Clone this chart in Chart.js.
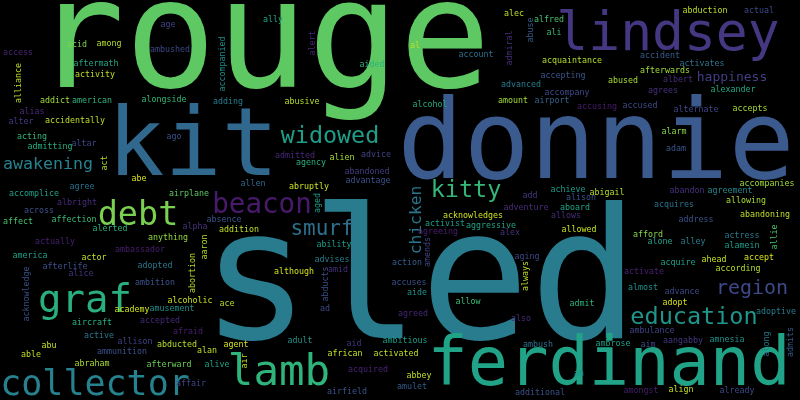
<!DOCTYPE html>
<html>
<head>
<meta charset="utf-8">
<title>Word cloud</title>
<script src="https://cdn.jsdelivr.net/npm/chart.js"></script>
<style>
  html, body { margin: 0; padding: 0; background: #000; }
  #wrap { width: 800px; height: 400px; }
</style>
</head>
<body>
<div id="wrap"><canvas id="cloud" width="800" height="400"></canvas></div>
<script>
/* ─── Data: large words ─────────────────────────────────────────────────── */
const bigWords = ['rouge', 'donnie', 'sled', 'kit', 'lindsey', 'ferdinand', 'lamb', 'collector', 'graf', 'debt',
                  'beacon', 'education', 'widowed', 'kitty', 'smurf', 'region', 'awakening', 'chicken', 'happiness'];
const bigX     = [262, 596, 420, 193, 668, 609, 279, 95, 85, 138,
                  262, 694, 330, 466, 322, 752, 48, 421, 732];
const bigY     = [87, 178, 338, 175, 50, 385, 385, 395, 312, 225,
                  213, 324, 143, 197, 235, 294, 169, 220, 81];
const bigSize  = [152, 110, 182, 95, 53, 67, 42.5, 35, 39, 33.5,
                  27.6, 23.5, 23.4, 23.5, 21, 20, 16.6, 16.3, 13];
const bigColor = ['#5ec962', '#3b5a8d', '#287c8e', '#31688e', '#453781', '#20a386', '#2fb47c', '#26828e', '#2ab07f', '#7ad151',
                  '#481a6c', '#1f968b', '#1f9e89', '#35b779', '#2d708e', '#3e4a89', '#26828e', '#2a768e', '#433e85'];

/* ─── Data: small words ─────────────────────────────────────────────────── */
const SMALL_SIZE = 8.3;
const smallWords = [
  'age', 'acid', 'among', 'access', 'ambushed', 'alliance', 'aftermath', 'activity', 'addict', 'american',
  'alongside', 'alias', 'alter', 'accidentally', 'acting', 'ago', 'admitting', 'altar', 'act', 'abe',
  'agree', 'accomplice', 'airplane', 'ally', 'accompanied', 'alert', 'aided', 'adding', 'abusive', 'admitted',
  'alien', 'advice', 'agency', 'abandoned', 'advantage', 'allen', 'abruptly', 'alec', 'alfred', 'ali',
  'abuse', 'admiral', 'al', 'account', 'acquaintance', 'accepting', 'advanced', 'accompany', 'amount', 'airport',
  'alcohol', 'accusing', 'achieve', 'alison', 'add', 'abduction', 'actual', 'accident', 'activates', 'afterwards',
  'albert', 'abused', 'agrees', 'alexander', 'accused', 'alternate', 'accepts', 'alarm', 'adam', 'abigail',
  'abandon', 'agreement', 'accompanies', 'allowing', 'albright', 'across', 'affect', 'affection', 'alerted', 'actually',
  'anything', 'alpha', 'ambassador', 'america', 'actor', 'afterlife', 'adopted', 'alice', 'acknowledge', 'abortion',
  'ambition', 'alcoholic', 'academy', 'amusement', 'aircraft', 'accepted', 'afraid', 'active', 'allison', 'abu',
  'abducted', 'able', 'ammunition', 'abraham', 'afterward', 'affair', 'absence', 'addition', 'aaron', 'aged',
  'ability', 'advises', 'although', 'abducts', 'amid', 'ace', 'ad', 'adult', 'agent', 'alan',
  'aid', 'ambitious', 'african', 'activated', 'alive', 'air', 'acquired', 'airfield', 'action', 'accuses',
  'agreed', 'adventure', 'aboard', 'acknowledges', 'allows', 'activist', 'aggressive', 'agreeing', 'alex', 'allowed',
  'amends', 'aging', 'always', 'aide', 'allow', 'admit', 'also', 'ambush', 'ambrose', 'abbey',
  'ah', 'amulet', 'additional', 'acquires', 'abandoning', 'address', 'afford', 'actress', 'allie', 'alone',
  'alley', 'alamein', 'acquire', 'ahead', 'accept', 'activate', 'according', 'almost', 'advance', 'adopt',
  'adoptive', 'ambulance', 'aang', 'abby', 'amnesia', 'aim', 'along', 'admits', 'amongst', 'align',
  'already'
];
const smallX = [
  168, 77, 109, 18, 170, 21, 96, 95, 55, 92,
  164, 32, 21, 75, 32, 174, 50, 84, 107, 139,
  82, 34, 189, 273, 225, 315, 372, 228, 302, 295,
  342, 376, 311, 367, 368, 253, 309, 514, 549, 554,
  533, 512, 415, 476, 572, 563, 521, 567, 513, 552,
  430, 597, 568, 581, 530, 705, 759, 660, 702, 665,
  678, 623, 663, 733, 640, 696, 750, 674, 676, 607,
  687, 730, 767, 746, 77, 39, 18, 74, 110, 55,
  168, 195, 140, 30, 94, 65, 155, 81, 29, 195,
  155, 190, 132, 172, 92, 160, 188, 99, 135, 49,
  177, 31, 122, 92, 169, 191, 224, 239, 207, 320,
  334, 332, 294, 328, 338, 227, 325, 300, 236, 207,
  354, 405, 345, 396, 217, 247, 368, 347, 407, 409,
  413, 526, 575, 473, 566, 445, 491, 438, 510, 579,
  430, 527, 528, 417, 468, 582, 521, 538, 613, 419,
  579, 412, 540, 674, 765, 696, 648, 742, 777, 660,
  693, 742, 678, 714, 759, 644, 738, 643, 682, 675,
  776, 652, 673, 693, 727, 648, 769, 793, 641, 681,
  737
];
const smallY = [
  27, 47, 46, 55, 52, 83, 66, 77, 103, 103,
  102, 114, 124, 123, 139, 139, 149, 146, 163, 181,
  189, 196, 196, 22, 64, 43, 67, 104, 104, 158,
  160, 157, 165, 174, 183, 186, 189, 16, 22, 35,
  30, 48, 48, 57, 63, 78, 87, 95, 103, 103,
  107, 109, 192, 200, 198, 13, 13, 58, 66, 73,
  82, 83, 93, 92, 108, 112, 111, 134, 151, 195,
  193, 193, 186, 203, 205, 213, 224, 222, 231, 244,
  240, 229, 252, 258, 260, 269, 268, 276, 294, 273,
  285, 303, 312, 311, 325, 323, 334, 338, 344, 348,
  347, 357, 354, 366, 367, 386, 222, 232, 247, 203,
  247, 262, 274, 284, 272, 306, 311, 343, 347, 353,
  346, 343, 356, 356, 367, 361, 372, 394, 265, 285,
  316, 210, 210, 218, 218, 226, 228, 234, 235, 232,
  252, 259, 276, 295, 304, 306, 321, 347, 346, 378,
  376, 389, 395, 207, 217, 222, 237, 238, 237, 244,
  244, 248, 265, 262, 260, 274, 271, 290, 294, 305,
  314, 333, 343, 343, 342, 347, 344, 342, 393, 392,
  393
];
const smallColor = [
  '#414487', '#7ad151', '#b5de2b', '#482475', '#3e4989', '#bddf26', '#21a685', '#c2df23', '#a0da39', '#2fb47c',
  '#35b779', '#472d7b', '#443983', '#bddf26', '#35b779', '#3b528b', '#29af7f', '#3e4989', '#b5de2b', '#d8e219',
  '#2c728e', '#1fa188', '#5ec962', '#22a884', '#21918c', '#482878', '#2db27d', '#287d8e', '#b5de2b', '#482878',
  '#a8db34', '#414487', '#2ab07f', '#433e85', '#3b528b', '#31688e', '#c8e020', '#c2df23', '#4ac16d', '#3bbb75',
  '#355f8d', '#46327e', '#bddf26', '#2c728e', '#b5de2b', '#39568c', '#287c8e', '#3e4a89', '#a2da37', '#33638d',
  '#25ab82', '#481c6e', '#1f9e89', '#3b528b', '#443983', '#bddf26', '#3e4989', '#355f8d', '#2c728e', '#a0da39',
  '#472d7b', '#a8db34', '#46327e', '#22a884', '#3e4a89', '#3f4788', '#a5db36', '#86d549', '#39568c', '#b8de29',
  '#46327e', '#24878e', '#a0da39', '#a8db34', '#472d7b', '#3b528b', '#4ac16d', '#3bbb75', '#2db27d', '#482071',
  '#95d840', '#46337e', '#481f70', '#1fa188', '#c2df23', '#3b528b', '#2a788e', '#46337e', '#3b528b', '#b5de2b',
  '#3b528b', '#c8e020', '#cde11d', '#21918c', '#2ab07f', '#472a7a', '#481f70', '#2a788e', '#414487', '#c8e020',
  '#b8de29', '#c2df23', '#3b528b', '#a8db34', '#6ece58', '#414487', '#39568c', '#c2df23', '#b5de2b', '#1f9e89',
  '#1f9e89', '#287d8e', '#d0e11c', '#3b528b', '#46327e', '#b5de2b', '#3e4989', '#21918c', '#d8e219', '#c2df23',
  '#46327e', '#1f9e89', '#c8e020', '#c2df23', '#1fa187', '#c2df23', '#482475', '#3b528b', '#355f8d', '#3b528b',
  '#482878', '#472d7b', '#20a386', '#c8e020', '#472d7b', '#1f9e89', '#20a386', '#481f70', '#46337e', '#c8e020',
  '#414487', '#3e4a89', '#bddf26', '#21918c', '#3bbb75', '#2db27d', '#472a7a', '#2c728e', '#1fa188', '#c2df23',
  '#21918c', '#355f8d', '#3b528b', '#2c728e', '#bddf26', '#3b528b', '#86d549', '#2a788e', '#4ac16d', '#1fa188',
  '#287d8e', '#1f9e89', '#1fa188', '#c8e020', '#d8e219', '#482173', '#b5de2b', '#20928c', '#3e4989', '#d8e219',
  '#287d8e', '#414487', '#443983', '#453882', '#21918c', '#3e4989', '#2a788e', '#355f8d', '#481f70', '#c8e020',
  '#3e4989'
];

// words drawn reading bottom-to-top
const verticalWords = ['chicken', 'alliance', 'act', 'accompanied', 'alert', 'abuse', 'admiral', 'acknowledge',
                       'abortion', 'aaron', 'aged', 'abducts', 'air', 'amends', 'always', 'allie', 'along', 'admits'];

const FONT = "'DejaVu Sans Mono', monospace";

/* ─── Text plugin: draws each word at its point ─────────────────────────── */
const wordPlugin = {
  id: 'wordPlugin',
  beforeDraw(chart) {
    const ctx = chart.ctx;
    ctx.save();
    ctx.fillStyle = '#000';
    ctx.fillRect(0, 0, chart.width, chart.height);
    ctx.restore();
  },
  afterDatasetsDraw(chart) {
    const ctx = chart.ctx;
    chart.data.datasets.forEach((ds, di) => {
      const meta = chart.getDatasetMeta(di);
      meta.data.forEach((pt, i) => {
        const word = ds.words[i];
        ctx.save();
        ctx.translate(pt.x, pt.y);
        if (verticalWords.includes(word)) ctx.rotate(-Math.PI / 2);
        ctx.font = ds.sizes[i] + 'px ' + FONT;
        ctx.fillStyle = ds.colors[i];
        ctx.textAlign = 'center';
        ctx.textBaseline = 'alphabetic';
        ctx.fillText(word, 0, 0);
        ctx.restore();
      });
    });
  }
};

new Chart(document.getElementById('cloud'), {
  type: 'scatter',
  data: {
    datasets: [
      {
        data: bigX.map((x, i) => ({ x, y: bigY[i] })),
        words: bigWords,
        sizes: bigSize,
        colors: bigColor,
        pointRadius: 0,
      },
      {
        data: smallX.map((x, i) => ({ x, y: smallY[i] })),
        words: smallWords,
        sizes: smallWords.map(() => SMALL_SIZE),
        colors: smallColor,
        pointRadius: 0,
      },
    ],
  },
  options: {
    responsive: false,
    animation: false,
    layout: { padding: 0 },
    plugins: { legend: { display: false }, tooltip: { enabled: false } },
    scales: {
      x: { type: 'linear', min: 0, max: 800, display: false },
      y: { type: 'linear', min: 0, max: 400, reverse: true, display: false },
    },
  },
  plugins: [wordPlugin],
});
</script>
</body>
</html>
